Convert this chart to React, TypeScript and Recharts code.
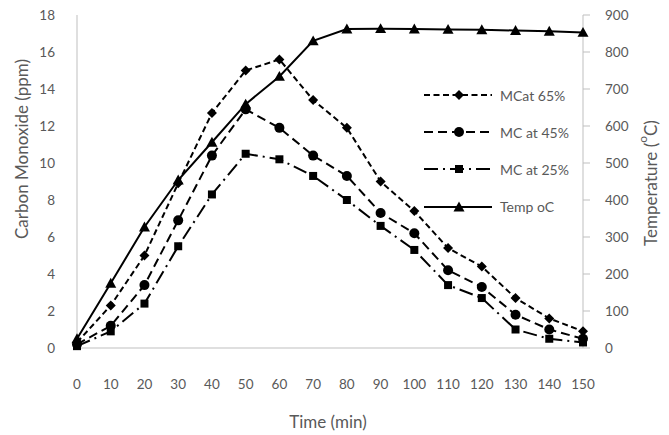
import React from 'react';
import { LineChart, Line, XAxis, YAxis, Legend, Label } from 'recharts';

const times = [0, 10, 20, 30, 40, 50, 60, 70, 80, 90, 100, 110, 120, 130, 140, 150];
const mc65 = [0.3, 2.3, 5.0, 8.9, 12.7, 15.0, 15.6, 13.4, 11.9, 9.0, 7.4, 5.4, 4.4, 2.7, 1.6, 0.9];
const mc45 = [0.2, 1.2, 3.4, 6.9, 10.4, 12.9, 11.9, 10.4, 9.3, 7.3, 6.2, 4.2, 3.3, 1.8, 1.0, 0.5];
const mc25 = [0.1, 0.9, 2.4, 5.5, 8.3, 10.5, 10.2, 9.3, 8.0, 6.6, 5.3, 3.4, 2.7, 1.0, 0.5, 0.3];
const temp = [25, 175, 327, 454, 556, 659, 734, 830, 862, 863, 862, 861, 860, 858, 856, 853];

const leftTicks = [0, 2, 4, 6, 8, 10, 12, 14, 16, 18];
const rightTicks = [0, 100, 200, 300, 400, 500, 600, 700, 800, 900];
const seriesNames = ['MCat 65%', 'MC at 45%', 'MC at 25%', 'Temp oC'];

const data = times.map((t, i) => ({ t, mc65: mc65[i], mc45: mc45[i], mc25: mc25[i], temp: temp[i] }));

const FONT = 'Lato, "Open Sans", sans-serif';
const TEXT = '#595959';
const AXIS = '#BFBFBF';
const TICK_FS = 13.5;
const TITLE_FS = 17;

type Shape = 'diamond' | 'circle' | 'square' | 'triangle';

const markerEl = (shape: Shape, cx: number, cy: number, key?: any) => {
  if (shape === 'diamond') {
    const s = 5;
    return <path key={key} d={`M${cx},${cy - s}L${cx + s},${cy}L${cx},${cy + s}L${cx - s},${cy}Z`} fill="#000" />;
  }
  if (shape === 'circle') return <circle key={key} cx={cx} cy={cy} r={5} fill="#000" />;
  if (shape === 'square') return <rect key={key} x={cx - 4} y={cy - 4} width={8} height={8} fill="#000" />;
  const s = 5.5;
  return <path key={key} d={`M${cx},${cy - s}L${cx + s},${cy + s * 0.8}L${cx - s},${cy + s * 0.8}Z`} fill="#000" />;
};

const dotFor = (shape: Shape) => (p: any) => {
  if (p.cx == null || p.cy == null) return <g key={p.index} />;
  return markerEl(shape, p.cx, p.cy, `${shape}-${p.index}`);
};

const styles: { dash: string | undefined; shape: Shape }[] = [
  { dash: '6 3.5', shape: 'diamond' },
  { dash: '9 5', shape: 'circle' },
  { dash: '14 5 2 5', shape: 'square' },
  { dash: undefined, shape: 'triangle' },
];

const LegendContent = () => (
  <div style={{ fontFamily: FONT, fontSize: 14, color: TEXT }}>
    {seriesNames.map((n, i) => (
      <div key={n} style={{ height: 37.2, display: 'flex', alignItems: 'center' }}>
        <svg width={68} height={20} style={{ display: 'block' }}>
          <line x1={0} y1={10} x2={68} y2={10} stroke="#000" strokeWidth={2} strokeDasharray={styles[i].dash} />
          {markerEl(styles[i].shape, 35, 10)}
        </svg>
        <span style={{ marginLeft: 8, whiteSpace: 'nowrap' }}>{n}</span>
      </div>
    ))}
  </div>
);

export default function App() {
  return (
    <div style={{ position: 'absolute', left: 0, top: 0 }}>
      <LineChart width={669} height={435} data={data} margin={{ top: 15, right: 0, bottom: 0, left: 0 }}>
        <XAxis
          dataKey="t"
          type="number"
          domain={[0, 150]}
          ticks={times}
          interval={0}
          height={87}
          axisLine={{ stroke: AXIS }}
          tickLine={false}
          tickMargin={25}
          tick={{ fill: TEXT, fontSize: TICK_FS, fontFamily: FONT }}
        >
          <Label
            content={({ viewBox }: any) => (
              <text x={viewBox.x + viewBox.width / 2 - 2} y={viewBox.y + 73} textAnchor="middle" dominantBaseline="central" fill={TEXT} fontSize={TITLE_FS} fontFamily={FONT}>
                Time (min)
              </text>
            )}
          />
        </XAxis>
        <YAxis
          yAxisId="left"
          width={77}
          domain={[0, 18]}
          ticks={leftTicks}
          interval={0}
          axisLine={{ stroke: AXIS }}
          tickLine={false}
          tickMargin={16}
          tick={{ fill: TEXT, fontSize: TICK_FS, fontFamily: FONT }}
        >
          <Label
            content={({ viewBox }: any) => {
              const x = viewBox.x + 21;
              const y = viewBox.y + 134;
              return (
                <text x={x} y={y} transform={`rotate(-90 ${x} ${y})`} textAnchor="middle" dominantBaseline="central" fill={TEXT} fontSize={TITLE_FS} fontFamily={FONT}>
                  Carbon Monoxide (ppm)
                </text>
              );
            }}
          />
        </YAxis>
        <YAxis
          yAxisId="right"
          orientation="right"
          width={86}
          domain={[0, 900]}
          ticks={rightTicks}
          interval={0}
          axisLine={{ stroke: AXIS }}
          tickLine={{ stroke: AXIS }}
          tickSize={7}
          tickMargin={15}
          tick={{ fill: TEXT, fontSize: TICK_FS, fontFamily: FONT }}
        >
          <Label
            content={({ viewBox }: any) => {
              const x = viewBox.x + 67;
              const y = viewBox.y + 168;
              return (
                <text x={x} y={y} transform={`rotate(-90 ${x} ${y})`} textAnchor="middle" dominantBaseline="central" fill={TEXT} fontSize={TITLE_FS} fontFamily={FONT}>
                  Temperature (<tspan baselineShift="super" fontSize={12}>o</tspan>C)
                </text>
              );
            }}
          />
        </YAxis>
        <Legend
          layout="vertical"
          align="center"
          verticalAlign="middle"
          content={<LegendContent />}
          wrapperStyle={{ left: 424, top: 76.5, width: 150 }}
        />
        <Line yAxisId="left" dataKey="mc65" name={seriesNames[0]} stroke="#000" strokeWidth={2} strokeDasharray={styles[0].dash} dot={dotFor('diamond')} activeDot={false} isAnimationActive={false} />
        <Line yAxisId="left" dataKey="mc45" name={seriesNames[1]} stroke="#000" strokeWidth={2} strokeDasharray={styles[1].dash} dot={dotFor('circle')} activeDot={false} isAnimationActive={false} />
        <Line yAxisId="left" dataKey="mc25" name={seriesNames[2]} stroke="#000" strokeWidth={2} strokeDasharray={styles[2].dash} dot={dotFor('square')} activeDot={false} isAnimationActive={false} />
        <Line yAxisId="right" dataKey="temp" name={seriesNames[3]} stroke="#000" strokeWidth={2} dot={dotFor('triangle')} activeDot={false} isAnimationActive={false} />
      </LineChart>
    </div>
  );
}
